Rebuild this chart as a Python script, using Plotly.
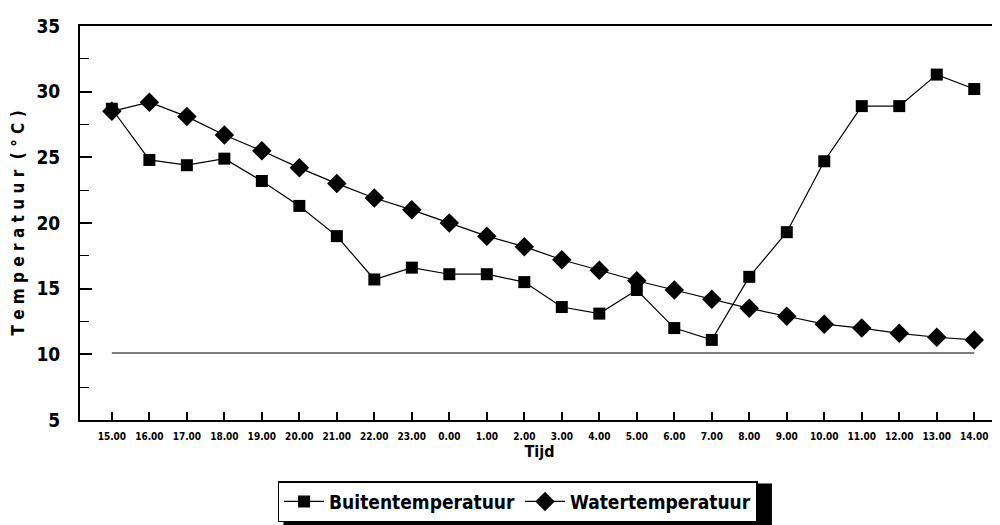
import plotly.graph_objects as go

# hourly readings, 15.00 in the afternoon until 14.00 the next day
tijd = ["15.00", "16.00", "17.00", "18.00", "19.00", "20.00", "21.00", "22.00",
        "23.00", "0.00", "1.00", "2.00", "3.00", "4.00", "5.00", "6.00",
        "7.00", "8.00", "9.00", "10.00", "11.00", "12.00", "13.00", "14.00"]

buiten = [28.7, 24.8, 24.4, 24.9, 23.2, 21.3, 19.0, 15.7, 16.6, 16.1, 16.1, 15.5,
          13.6, 13.1, 14.9, 12.0, 11.1, 15.9, 19.3, 24.7, 28.9, 28.9, 31.3, 30.2]

water = [28.5, 29.2, 28.1, 26.7, 25.5, 24.2, 23.0, 21.9, 21.0, 20.0, 19.0, 18.2,
         17.2, 16.4, 15.6, 14.9, 14.2, 13.5, 12.9, 12.3, 12.0, 11.6, 11.3, 11.1]

ondergrens_x = [tijd[0], tijd[-1]]
ondergrens_y = [10.1, 10.1]

FONT = "Liberation Sans Narrow, DejaVu Sans Condensed, Arial Narrow, Arial"

fig = go.Figure()

fig.add_trace(go.Scatter(
    x=tijd, y=buiten, mode="lines+markers", name="Buitentemperatuur",
    line=dict(color="black", width=1.2),
    marker=dict(symbol="square", size=12, color="black")
))

fig.add_trace(go.Scatter(
    x=tijd, y=water, mode="lines+markers", name="Watertemperatuur",
    line=dict(color="black", width=1.2),
    marker=dict(symbol="diamond", size=15, color="black")
))

fig.add_trace(go.Scatter(
    x=ondergrens_x, y=ondergrens_y, mode="lines",
    line=dict(color="black", width=1.2),
    showlegend=False, hoverinfo="skip"
))

# drop shadow behind the legend box
fig.add_shape(
    type="rect", xref="paper", yref="paper",
    x0=0.2214, x1=0.7529, y0=-0.2745, y1=-0.1610,
    fillcolor="black", line=dict(width=0), layer="below"
)

fig.update_layout(
    width=1000, height=525,
    margin=dict(l=72, r=7, t=15, b=113),
    paper_bgcolor="white", plot_bgcolor="white",
    font=dict(family=FONT, color="black"),
    xaxis=dict(
        type="category", categoryorder="array", categoryarray=tijd,
        range=[-0.85, 23.66],
        showline=True, linecolor="black", linewidth=2, mirror=True,
        ticks="inside", ticklen=8, tickwidth=2, tickcolor="black",
        ticklabelstandoff=6,
        tickfont=dict(size=10, family=FONT, weight="bold"),
        showgrid=False, zeroline=False,
        title=dict(text="Tijd", font=dict(size=16, weight="bold"), standoff=4),
    ),
    yaxis=dict(
        range=[5, 35], tickvals=[5, 10, 15, 20, 25, 30, 35],
        showline=True, linecolor="black", linewidth=2, mirror=True,
        ticks="inside", ticklen=12, tickwidth=2, tickcolor="black",
        minor=dict(dtick=2.5, tick0=5, ticks="inside", ticklen=9, tickwidth=1, tickcolor="black"),
        ticklabelstandoff=14,
        tickfont=dict(size=19, family=FONT, weight="bold"),
        showgrid=False, zeroline=False,
        title=dict(text="T e m p e r a t u u r  ( ° C )", font=dict(size=17, weight="bold"), standoff=8),
    ),
    legend=dict(
        orientation="h", x=0.215, xanchor="left", y=-0.155, yanchor="top",
        bgcolor="white", bordercolor="black", borderwidth=1.5,
        font=dict(size=19, family=FONT, weight="bold"),
        itemwidth=40, tracegroupgap=0,
    ),
)

fig.write_html("out.html")
